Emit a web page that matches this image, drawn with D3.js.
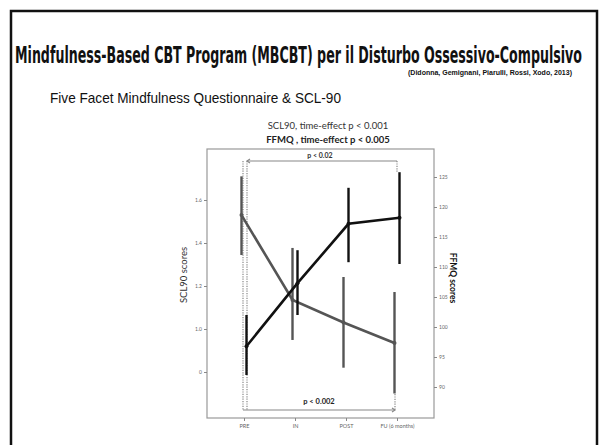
<!DOCTYPE html>
<html>
<head>
<meta charset="utf-8">
<script src="https://cdn.jsdelivr.net/npm/d3@7"></script>
<style>
  body { margin: 0; background: #fff; }
</style>
</head>
<body>
<svg id="chart" width="599" height="445"></svg>
<script>
const timepoints = ["PRE", "IN", "POST", "FU (6 months)"];

// SCL90 (left axis, grey line)
const sclMean = [1.53, 1.135, 1.03, 0.935];
const sclLow = [1.344, 0.949, 0.82, 0.70];
const sclHigh = [1.71, 1.377, 1.242, 1.172];
const sclTicks = [0.8, 1.0, 1.2, 1.4, 1.6];
const sclTickLabels = ["0", "1.0", "1.2", "1.4", "1.6"];

// FFMQ (right axis, black line)
const ffmqMean = [96.8, 107.3, 117.2, 118.2];
const ffmqLow = [92, 102, 110.8, 110.5];
const ffmqHigh = [102, 112.8, 123.2, 125.8];
const ffmqTicks = [90, 95, 100, 105, 110, 115, 120, 125];

const svg = d3.select("#chart");
const fontSmall = "Lato, 'Open Sans', sans-serif";

// outer frame
svg.append("path")
  .attr("d", "M11,446 V11 H597 V446")
  .attr("fill", "none")
  .attr("stroke", "#111")
  .attr("stroke-width", 2.5);

// condensed heading: small font stretched up to look like the tall poster face
svg.append("text")
  .attr("transform", "translate(15,63) scale(1,1.64)")
  .attr("textLength", 567)
  .attr("lengthAdjust", "spacingAndGlyphs")
  .style("font-family", "'DejaVu Sans Condensed', 'DejaVu Sans', sans-serif")
  .style("font-weight", "bold")
  .style("font-size", "14px")
  .style("fill", "#111")
  .text("Mindfulness-Based CBT Program (MBCBT) per il Disturbo Ossessivo-Compulsivo");

svg.append("text")
  .attr("x", 572).attr("y", 75)
  .attr("text-anchor", "end")
  .attr("textLength", 164)
  .attr("lengthAdjust", "spacingAndGlyphs")
  .style("font-family", "'Liberation Sans', Arial, sans-serif")
  .style("font-weight", "bold")
  .style("font-size", "7px")
  .style("fill", "#111")
  .text("(Didonna, Gemignani, Piarulli, Rossi, Xodo, 2013)");

svg.append("text")
  .attr("x", 50).attr("y", 103)
  .attr("textLength", 291)
  .attr("lengthAdjust", "spacingAndGlyphs")
  .style("font-family", "'Liberation Sans', Arial, sans-serif")
  .style("font-size", "14.5px")
  .style("fill", "#111")
  .text("Five Facet Mindfulness Questionnaire & SCL-90");

svg.append("text")
  .attr("x", 328).attr("y", 129)
  .attr("text-anchor", "middle")
  .style("font-family", fontSmall)
  .style("font-size", "9.5px")
  .style("fill", "#333")
  .text("SCL90,  time-effect p < 0.001");

svg.append("text")
  .attr("x", 328).attr("y", 143)
  .attr("text-anchor", "middle")
  .style("font-family", fontSmall)
  .style("font-weight", "bold")
  .style("font-size", "9.5px")
  .style("fill", "#222")
  .text("FFMQ ,  time-effect p < 0.005");

// scales
const box = { left: 207, right: 434, top: 149, bottom: 418 };
const x = d3.scalePoint().domain(timepoints).range([244, 397]);
const ySCL = d3.scaleLinear().domain([0.8, 1.6]).range([372, 200]);
const yFF = d3.scaleLinear().domain([90, 125]).range([387, 177]);

svg.append("rect")
  .attr("x", box.left).attr("y", box.top)
  .attr("width", box.right - box.left).attr("height", box.bottom - box.top)
  .attr("fill", "none")
  .attr("stroke", "#999")
  .attr("stroke-width", 1.2);

function styleAxis(g) {
  g.select(".domain").remove();
  g.selectAll(".tick line").attr("stroke", "#888");
  g.selectAll(".tick text")
    .style("font-family", fontSmall)
    .style("font-size", "5px")
    .style("fill", "#666");
}

svg.append("g")
  .attr("transform", `translate(${box.left},0)`)
  .call(d3.axisLeft(ySCL).tickValues(sclTicks).tickSize(3).tickPadding(2)
    .tickFormat((d, i) => sclTickLabels[i]))
  .call(styleAxis);

svg.append("g")
  .attr("transform", `translate(${box.right},0)`)
  .call(d3.axisRight(yFF).tickValues(ffmqTicks).tickSize(3).tickPadding(2))
  .call(styleAxis);

svg.append("g")
  .attr("transform", `translate(0,${box.bottom})`)
  .call(d3.axisBottom(x).tickSize(3).tickPadding(3))
  .call(styleAxis)
  .selectAll(".tick text").style("font-size", "5.5px");

svg.append("text")
  .attr("transform", "translate(187,275) rotate(-90)")
  .attr("text-anchor", "middle")
  .style("font-family", fontSmall)
  .style("font-size", "9.5px")
  .style("fill", "#333")
  .text("SCL90  scores");

svg.append("text")
  .attr("transform", "translate(450,278) rotate(90)")
  .attr("text-anchor", "middle")
  .style("font-family", fontSmall)
  .style("font-weight", "bold")
  .style("font-size", "8.5px")
  .style("fill", "#111")
  .text("FFMQ scores");

// significance brackets
const bracket = svg.append("g")
  .attr("fill", "none")
  .attr("stroke", "#888")
  .attr("stroke-width", 1.2);
const xPre = x("PRE"), xFu = x("FU (6 months)");

bracket.append("line")
  .attr("x1", xPre + 3).attr("x2", xFu).attr("y1", 161).attr("y2", 161);
bracket.append("path").attr("d", `M${xPre + 6},159 L${xPre + 3},161 L${xPre + 6},163`);
bracket.append("line")
  .attr("x1", xPre + 3).attr("x2", xPre + 3).attr("y1", 161).attr("y2", 410)
  .attr("stroke-dasharray", "1.2,1.2");
bracket.append("line")
  .attr("x1", xPre - 1).attr("x2", xPre - 1).attr("y1", 161).attr("y2", 410)
  .attr("stroke-dasharray", "1.2,1.2");
bracket.append("line")
  .attr("x1", xFu).attr("x2", xFu).attr("y1", 161).attr("y2", 172)
  .attr("stroke-dasharray", "1.2,1.2");

bracket.append("line")
  .attr("x1", xPre - 1).attr("x2", xFu - 2).attr("y1", 410).attr("y2", 410);
bracket.append("path").attr("d", `M${xFu - 5},408 L${xFu - 2},410 L${xFu - 5},412`);
bracket.append("line")
  .attr("x1", xFu - 2).attr("x2", xFu - 2).attr("y1", 394).attr("y2", 410)
  .attr("stroke-dasharray", "1.2,1.2");

svg.append("text")
  .attr("x", 320).attr("y", 158)
  .attr("text-anchor", "middle")
  .style("font-family", fontSmall)
  .style("font-weight", "bold")
  .style("font-size", "7px")
  .style("fill", "#333")
  .text("p < 0.02");

svg.append("text")
  .attr("x", 319).attr("y", 404)
  .attr("text-anchor", "middle")
  .style("font-family", fontSmall)
  .style("font-weight", "bold")
  .style("font-size", "7.5px")
  .style("fill", "#222")
  .text("p < 0.002");

// series
function drawSeries(mean, low, high, y, dx, color) {
  const g = svg.append("g");
  g.selectAll("line.err").data(timepoints)
    .enter().append("line")
      .attr("class", "err")
      .attr("x1", d => x(d) + dx).attr("x2", d => x(d) + dx)
      .attr("y1", (d, i) => y(low[i])).attr("y2", (d, i) => y(high[i]))
      .attr("stroke", color)
      .attr("stroke-width", 2.4);
  g.append("path")
    .datum(timepoints)
    .attr("d", d3.line().x(d => x(d) + dx).y((d, i) => y(mean[i])))
    .attr("fill", "none")
    .attr("stroke", color)
    .attr("stroke-width", 2.6);
  g.selectAll("circle").data(timepoints)
    .enter().append("circle")
      .attr("cx", d => x(d) + dx)
      .attr("cy", (d, i) => y(mean[i]))
      .attr("r", 2)
      .attr("fill", color);
}

drawSeries(sclMean, sclLow, sclHigh, ySCL, -2.5, "#555");
drawSeries(ffmqMean, ffmqLow, ffmqHigh, yFF, 2.5, "#111");
</script>
</body>
</html>
